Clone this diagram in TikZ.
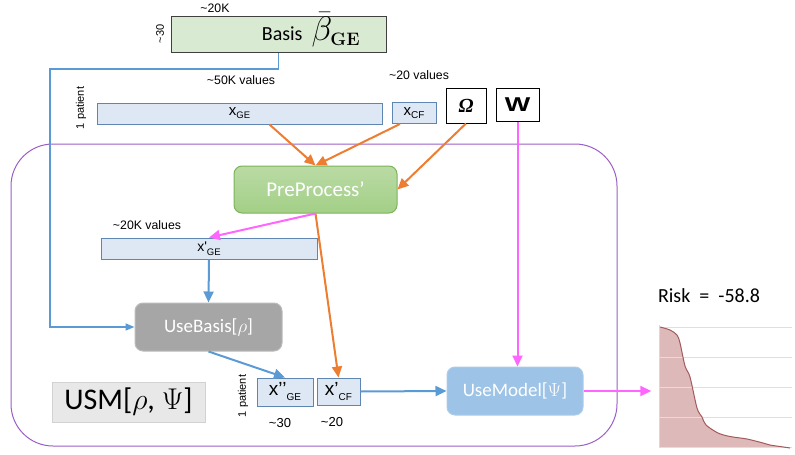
\RequirePackage{fix-cm}
\documentclass[tikz,border=0pt]{standalone}
\usepackage[no-math]{fontspec}
\setmainfont{Carlito}
\newfontfamily\arialfont{Liberation Sans}
\newfontfamily\timesfont{Liberation Serif}
\usetikzlibrary{arrows.meta}
\definecolor{gebox}{HTML}{DDE8F4}
\definecolor{geline}{HTML}{5F86B3}
\definecolor{basisfill}{HTML}{D9EAD3}
\definecolor{flowblue}{HTML}{5B9BD5}
\definecolor{floworange}{HTML}{ED7D31}
\definecolor{flowpink}{HTML}{FF66FF}
\definecolor{usmpurple}{HTML}{9B5FC8}
\definecolor{ppgreen}{HTML}{A3CF86}
\definecolor{ppline}{HTML}{7CB35A}
\definecolor{ubgray}{HTML}{A6A6A6}
\definecolor{umblue}{HTML}{9DC3E6}
\definecolor{riskfill}{HTML}{DDB9B9}
\definecolor{riskline}{HTML}{A35A5A}
\begin{document}
\begin{tikzpicture}[x = 1pt, y = -1pt,
        vec/.style = {draw = geline, fill = gebox, line width = 1pt, inner sep = 0pt},
        proc/.style = {rounded corners = 8pt, text = white, inner sep = 0pt, line width = 1pt,
            font = \fontsize{19}{21}\selectfont},
        flow/.style = {line width = 2pt, -{Triangle[length = 11pt, width = 10pt]}},
        small/.style = {font = \arialfont\fontsize{12.3}{14}\selectfont}]
    \useasboundingbox (0,0) rectangle (795,455);
    \draw[usmpurple, line width = 1pt, rounded corners = 42] (11,144) rectangle (617,446);
    \node[draw = black!75, fill = basisfill, line width = 1pt, minimum width = 215, minimum height = 36] (basis) at (278.5,34) {};
    \node[anchor = base, inner sep = 0pt] (basislbl) at (311,40) {\fontsize{20}{20}\selectfont Basis\ \ \fontsize{34}{34}\selectfont$\bar{\beta}_{\hbox{\fontsize{18}{18}\selectfont$\mathbf{GE}$}}$};
    \begin{scope}[every node/.append style = {small}]
        \node (sz20k) at (215,8) {\textasciitilde20K};
        \node[rotate = 90, font = \arialfont\fontsize{11}{12}\selectfont] (sz30) at (160,34) {\textasciitilde30};
        \node (sz50kv) at (241,80) {\textasciitilde50K values};
        \node (sz20v) at (419,75) {\textasciitilde20 values};
        \node (sz20kv) at (147,225) {\textasciitilde20K values};
        \node[font = \arialfont\fontsize{13}{14}\selectfont] (szbot30) at (280,423) {\textasciitilde30};
        \node[font = \arialfont\fontsize{13}{14}\selectfont] (szbot20) at (332,422) {\textasciitilde20};
        \node[rotate = 90, font = \arialfont\fontsize{11}{12}\selectfont] (pat1) at (81,108) {1 patient};
        \node[rotate = 90, font = \arialfont\fontsize{11}{12}\selectfont] (pat2) at (243,396) {1 patient};
    \end{scope}
    \begin{scope}[every node/.append style = {font = \arialfont}]
        \node[vec, minimum width = 285, minimum height = 21] (xge) at (239.5,113.5)
            {\fontsize{15}{15}\selectfont x\raisebox{-3pt}{\fontsize{9.5}{9}\selectfont GE}};
        \node[vec, minimum width = 44, minimum height = 21] (xcf) at (414,113)
            {\fontsize{15}{15}\selectfont x\raisebox{-3pt}{\fontsize{10}{10}\selectfont CF}};
        \node[vec, minimum width = 216, minimum height = 21] (xgep) at (209,248.5)
            {\fontsize{14}{14}\selectfont x'\raisebox{-4pt}{\fontsize{9.5}{9}\selectfont GE}};
        \node[vec, minimum width = 56, minimum height = 28] (xgepp) at (285,392)
            {\fontsize{19}{19}\selectfont x’’\raisebox{-5pt}{\fontsize{10}{10}\selectfont GE}};
        \node[vec, minimum width = 43, minimum height = 27] (xcfp) at (338.5,391.5)
            {\fontsize{19}{19}\selectfont x’\raisebox{-5pt}{\fontsize{10}{10}\selectfont CF}};
        \node[draw, line width = 1pt, fill = white, minimum width = 40, minimum height = 35] (omega) at (466,105.5)
            {\timesfont\bfseries\itshape\fontsize{20}{20}\selectfont Ω};
        \node[draw, line width = 1pt, fill = white, minimum width = 43, minimum height = 33] (wmat) at (517.5,104.5)
            {\bfseries\fontsize{20}{20}\selectfont\scalebox{1.35}[1]{W}};
    \end{scope}
    \node[proc, draw = ppline, top color = ppgreen!75!white, bottom color = ppgreen, minimum width = 163, minimum height = 47, font = \fontsize{21}{23}\selectfont] (prep) at (315.5,189.5) {PreProcess’};
    \node[proc, fill = ubgray, draw = ubgray!75!white, minimum width = 147, minimum height = 48] (usebasis) at (208.5,327) {UseBasis[$\rho$]};
    \node[proc, fill = umblue, draw = umblue!85!white, minimum width = 136, minimum height = 48] (usemodel) at (515,391) {UseModel[$\Psi$]};
    \node[fill = gray!18, draw = gray!35, minimum width = 153, minimum height = 40, font = \fontsize{30}{32}\selectfont] (usm) at (128.5,402) {USM[$\rho$, $\Psi$]};
    \node[font = \fontsize{20}{22}\selectfont] (risklbl) at (709,296) {Risk\ \ =\ \ -58.8};
    \node[minimum width = 135, minimum height = 128, inner sep = 0pt] (chart) at (725,386) {};
    \coordinate (corner) at (50,69);
    \draw[flowblue, line width = 1.6pt, -{Triangle[length = 9pt, width = 7pt]}] (basis.south) |- (corner) |- (usebasis.west);
    \draw[flow, floworange] ([xshift = 30]xge.south) -- (prep.north);
    \draw[flow, floworange] ([xshift = -14]xcf.south) -- (prep.north);
    \draw[flow, floworange] (omega.south) -- (prep.east);
    \draw[flow, floworange] (prep.south) -- (xcfp.north);
    \draw[flow, flowpink] (prep.south) -- (xgep.north);
    \draw[flow, flowpink] (wmat.south) -- (wmat.south |- usemodel.north);
    \draw[flow, flowpink, shorten > = 6pt] (usemodel.east) -- (usemodel.east -| chart.west);
    \draw[flow, flowblue] (xgep.south) -- (usebasis.north);
    \draw[flow, flowblue] (usebasis.south) -- (xgepp.north);
    \draw[flow, flowblue] (xcfp.east) -- (usemodel.west);
    \begin{scope}[style = {line width = 1pt}]
        \fill[riskfill] (660,447) -- plot[smooth] coordinates {(660,327) (670,330) (677,335) (680,343) (685,366) (690,377) (697,408) (702,417) (706,425) (718,433) (730,436.5) (747,439) (763,443) (770,445) (780,446.5) (790,448)} -- cycle;
        \draw[gray!25] (660,327) -- (792,327);
        \draw[gray!25] (660,357) -- (792,357);
        \draw[gray!25] (660,387) -- (792,387);
        \draw[gray!25] (660,417) -- (792,417);
        \draw[gray!25] (660,447) -- (792,447);
        \draw[gray!30] (659,325) -- (659,448);
        \draw[riskline] plot[smooth] coordinates {(660,327) (670,330) (677,335) (680,343) (685,366) (690,377) (697,408) (702,417) (706,425) (718,433) (730,436.5) (747,439) (763,443) (770,445) (780,446.5) (790,448)};
    \end{scope}
\end{tikzpicture}
\end{document}
